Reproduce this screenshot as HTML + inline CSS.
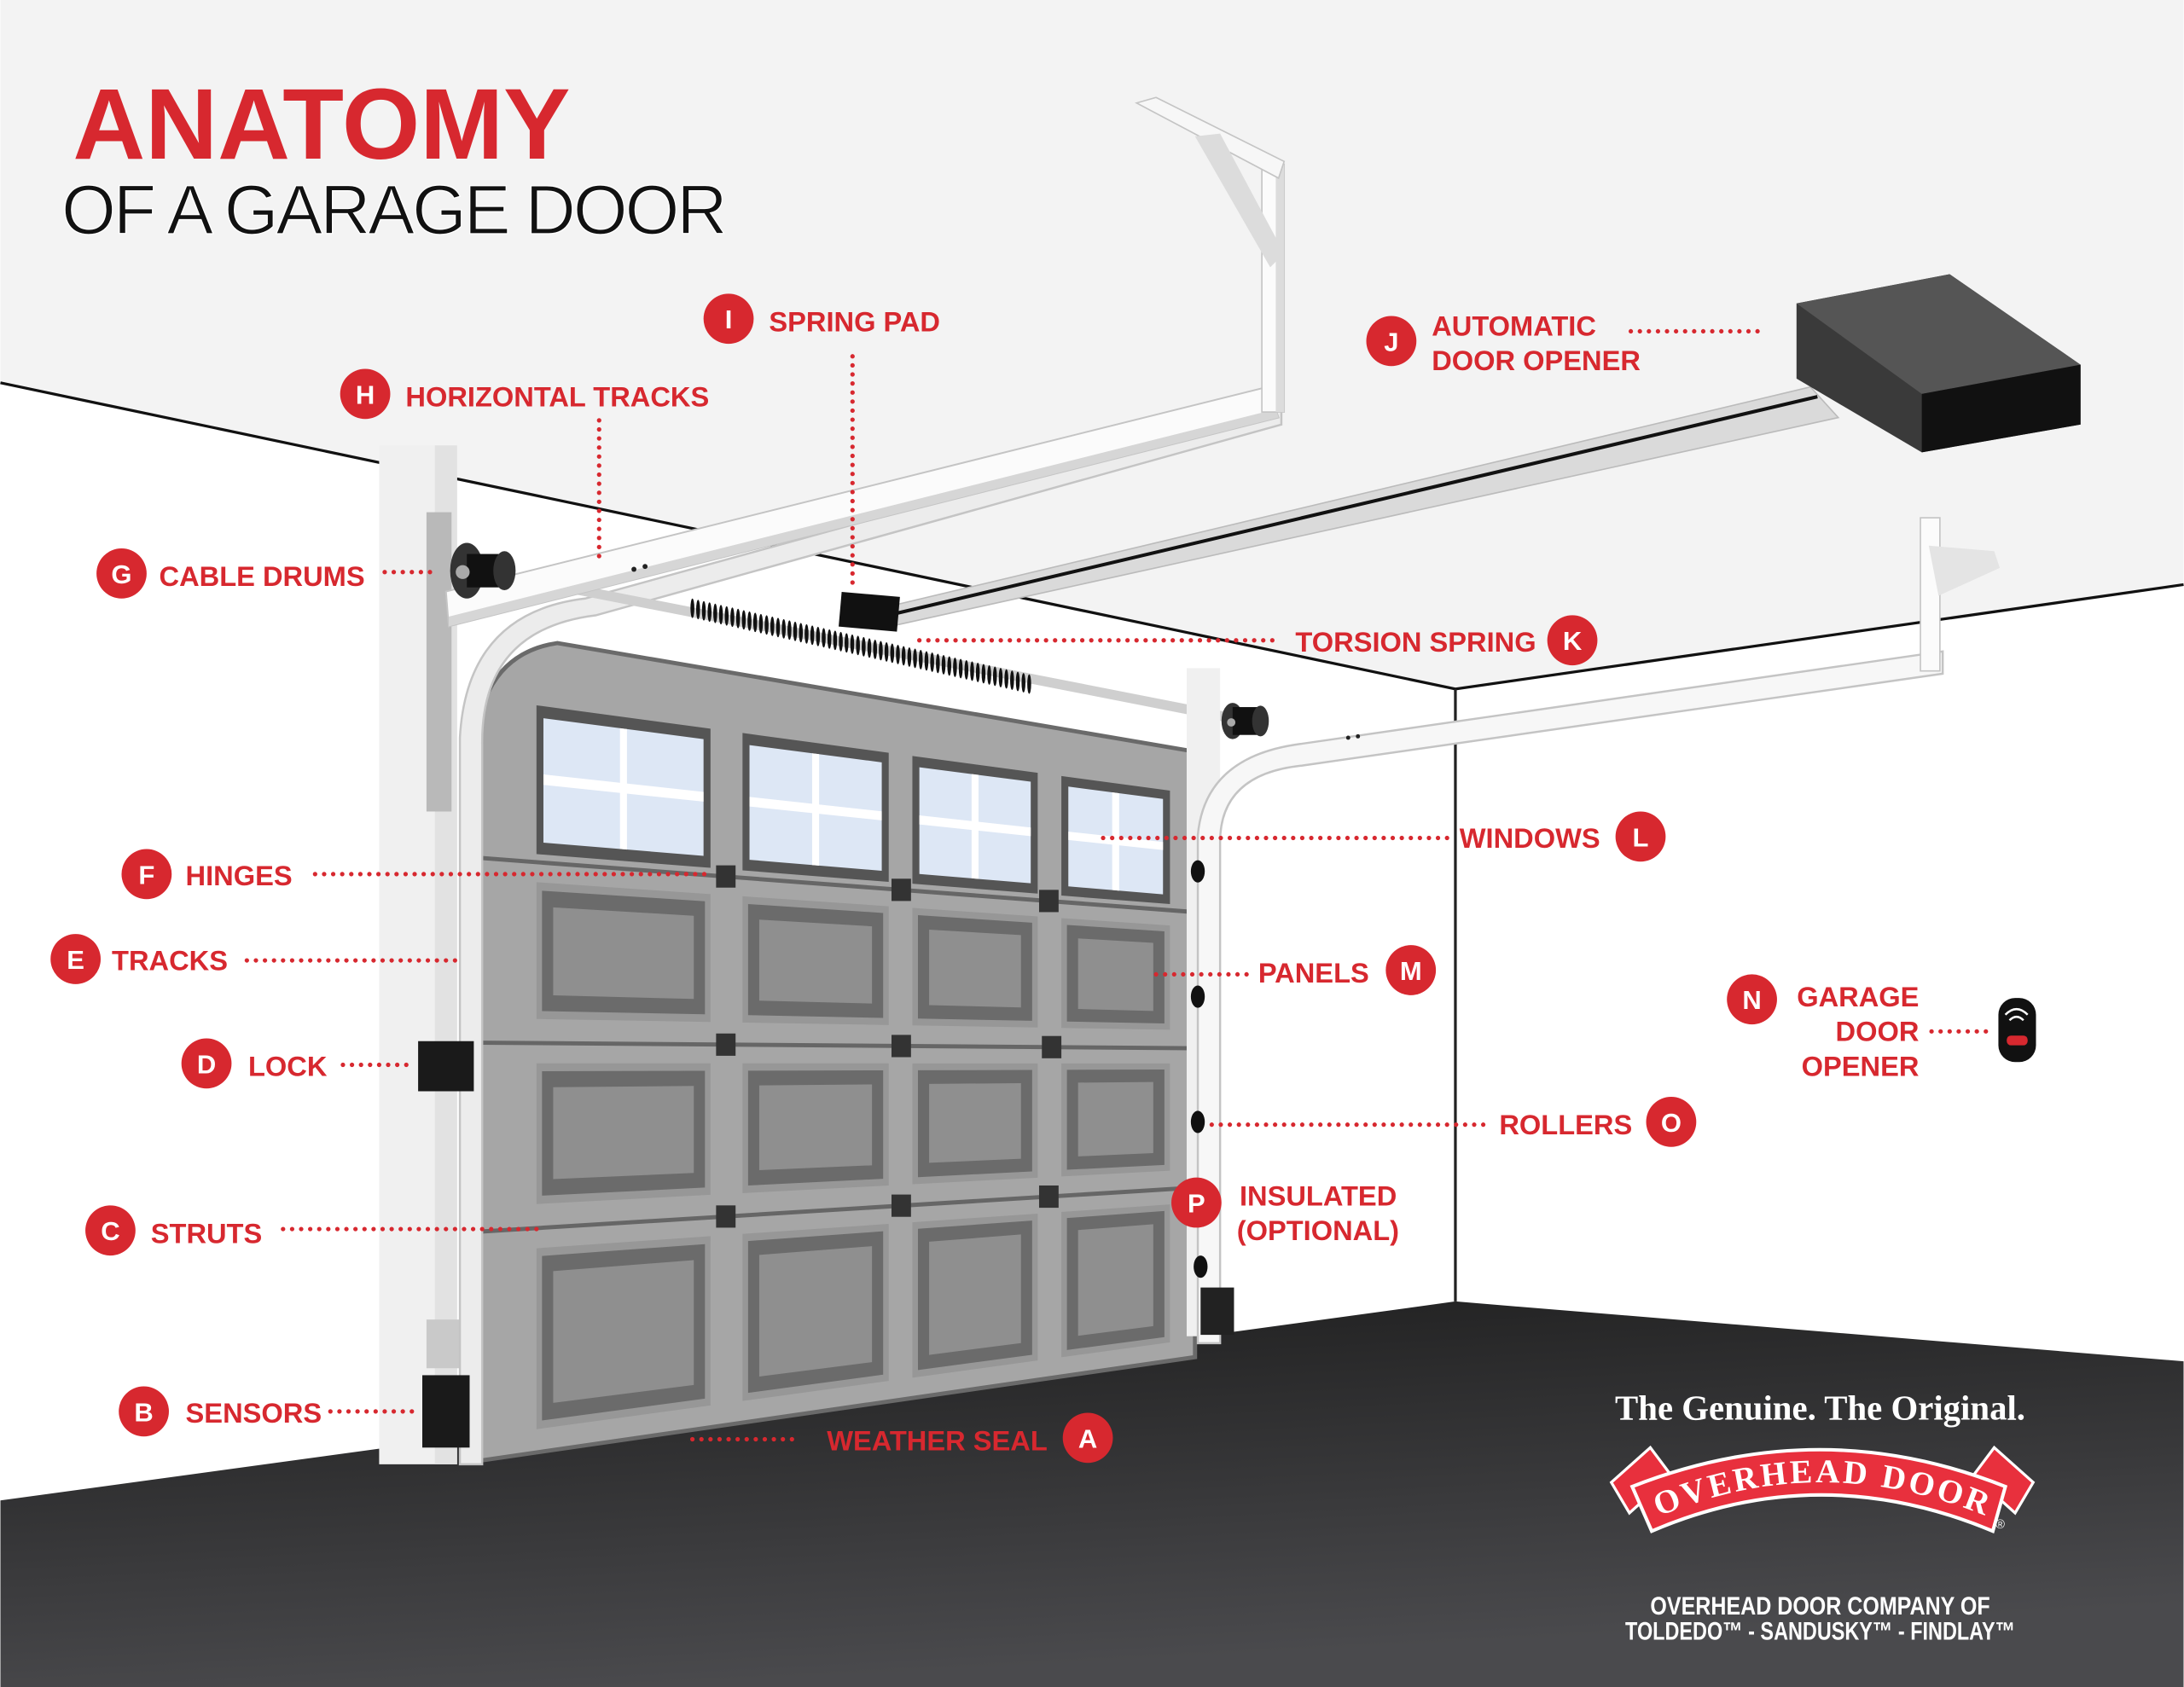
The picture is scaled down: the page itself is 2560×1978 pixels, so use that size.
<!DOCTYPE html>
<html><head><meta charset="utf-8"><style>
html,body{margin:0;padding:0;background:#fff;}
svg{display:block;}
.lab{font-family:"Liberation Sans",sans-serif;font-weight:bold;font-size:20px;fill:#d7282f;}
.cl{font-family:"Liberation Sans",sans-serif;font-weight:bold;font-size:19px;fill:#fff;text-anchor:middle;}
.dot{stroke:#d7282f;stroke-width:3.2;stroke-dasharray:0 6.5;stroke-linecap:round;fill:none;}
</style></head><body>
<svg id="s" width="2560" height="1978" viewBox="0 0 1568 1212" xmlns="http://www.w3.org/2000/svg">
<defs>
<linearGradient id="fl" x1="0" y1="0" x2="0.3" y2="1"><stop offset="0" stop-color="#1c1c1c"/><stop offset="1" stop-color="#4a4a4d"/></linearGradient>
</defs>
<rect width="1568" height="1212" fill="#fff"/>
<polygon points="0,0 1568,0 1568,420 1045,495 0,275" fill="#f3f3f3"/>
<polyline points="0,275 1045,495 1568,420" fill="none" stroke="#111" stroke-width="2"/>
<line x1="1045" y1="495" x2="1045" y2="935" stroke="#222" stroke-width="2"/>
<polygon points="0,1078 1045,935 1568,978 1568,1212 0,1212" fill="url(#fl)"/>
<!-- left jamb -->
<rect x="272" y="320" width="56" height="732" fill="#f0f0f0"/>
<rect x="312" y="320" width="16" height="732" fill="#e2e2e2"/>
<rect x="306" y="368" width="18" height="215" fill="#b9b9b9"/>
<rect x="306" y="948" width="28" height="35" fill="#c9c9c9"/>
<!-- door -->
<path d="M400,462 L858,540 L858,975 L340,1050 L340,540 Q345,470 400,462 Z" fill="#a6a6a6" stroke="#6a6a6a" stroke-width="3"/>
<g id="door"></g>
<!-- left curved track -->
<path d="M330,1052 L330,530 Q335,440 420,430 L920,292 L920,305 L428,442 Q345,452 346,535 L346,1052 Z" fill="#ececec" stroke="#c4c4c4" stroke-width="1.5"/>
<!-- torsion bar -->
<line x1="370" y1="415" x2="880" y2="515" stroke="#cfcfcf" stroke-width="7"/>
<g id="spring"></g>
<!-- left horizontal track bar -->
<polygon points="320,425 910,278 918,300 322,450" fill="#fbfbfb" stroke="#c4c4c4" stroke-width="1.2"/>
<polygon points="322,443 916,294 918,300 322,450" fill="#d6d6d6"/>
<circle cx="455" cy="409" r="1.8" fill="#222"/><circle cx="463" cy="407" r="1.8" fill="#222"/>
<!-- hanger -->
<polygon points="906,118 922,118 922,296 906,296" fill="#fbfbfb" stroke="#c4c4c4"/>
<rect x="916" y="118" width="6" height="178" fill="#dcdcdc"/>
<polygon points="816,74 830,70 922,116 918,128" fill="#f7f7f7" stroke="#c4c4c4"/>
<polygon points="858,98 876,96 922,182 912,192" fill="#dcdcdc"/>
<!-- cable drums -->
<ellipse cx="335" cy="410" rx="12" ry="20" fill="#333"/><rect x="335" y="398" width="26" height="24" fill="#111"/><ellipse cx="362" cy="410" rx="8" ry="14" fill="#333"/><circle cx="332" cy="411" r="5" fill="#aaa"/>
<ellipse cx="885" cy="518" rx="8" ry="13" fill="#333"/><rect x="885" y="508" width="20" height="20" fill="#111"/><ellipse cx="905" cy="518" rx="6" ry="11" fill="#333"/><circle cx="884" cy="519" r="3" fill="#aaa"/>
<!-- right jamb & track -->
<rect x="852" y="480" width="24" height="480" fill="#f0f0f0"/>
<path d="M860,965 L860,600 Q865,545 930,535 L1395,468 L1395,484 L935,550 Q876,556 876,605 L876,965 Z" fill="#f7f7f7" stroke="#c4c4c4" stroke-width="1.5"/>
<circle cx="968" cy="530" r="1.5" fill="#222"/><circle cx="975" cy="529" r="1.5" fill="#222"/>
<polygon points="1379,372 1393,372 1393,482 1379,482" fill="#fbfbfb" stroke="#c4c4c4"/>
<polygon points="1385,392 1432,396 1436,408 1392,428" fill="#e4e4e4"/>
<!-- rollers -->
<g fill="#111"><ellipse cx="860" cy="626" rx="5" ry="8"/><ellipse cx="860" cy="716" rx="5" ry="8"/><ellipse cx="860" cy="806" rx="5" ry="8"/><ellipse cx="862" cy="910" rx="5" ry="8"/></g>
<rect x="862" y="925" width="24" height="34" fill="#222"/>
<!-- opener rail -->
<polygon points="620,440 1300,278 1320,300 630,452" fill="#dadada" stroke="#bbb"/>
<line x1="625" y1="445" x2="1305" y2="285" stroke="#111" stroke-width="2.5"/>
<rect x="603" y="427" width="42" height="25" fill="#111" transform="rotate(5 624 440)"/>
<polygon points="1290,218 1400,197 1494,262 1494,305 1380,325 1290,272" fill="#3a3a3a"/>
<polygon points="1290,218 1400,197 1494,262 1380,283" fill="#555"/>
<polygon points="1380,283 1494,262 1494,305 1380,325" fill="#111"/>
<rect x="300" y="748" width="40" height="36" fill="#1a1a1a"/>
<rect x="303" y="988" width="34" height="52" fill="#1a1a1a"/>
<!-- title -->
<text x="52" y="114" font-family="Liberation Sans,sans-serif" font-weight="bold" font-size="72" fill="#d7282f">ANATOMY</text>
<text x="44" y="168" font-family="Liberation Sans,sans-serif" font-size="50" fill="#111" stroke="#fff" stroke-width="0.8" textLength="478">OF A GARAGE DOOR</text>
<line class="dot" x1="612" y1="256" x2="612" y2="425"/>
<line class="dot" x1="430" y1="302" x2="430" y2="405"/>
<line class="dot" x1="1171" y1="238" x2="1268" y2="238"/>
<line class="dot" x1="276" y1="411" x2="315" y2="411"/>
<line class="dot" x1="660" y1="460" x2="916" y2="460"/>
<line class="dot" x1="792" y1="602" x2="1040" y2="602"/>
<line class="dot" x1="226" y1="628" x2="510" y2="628"/>
<line class="dot" x1="177" y1="690" x2="330" y2="690"/>
<line class="dot" x1="830" y1="700" x2="897" y2="700"/>
<line class="dot" x1="1387" y1="741" x2="1428" y2="741"/>
<line class="dot" x1="246" y1="765" x2="297" y2="765"/>
<line class="dot" x1="870" y1="808" x2="1070" y2="808"/>
<line class="dot" x1="203" y1="883" x2="390" y2="883"/>
<line class="dot" x1="237" y1="1014" x2="298" y2="1014"/>
<line class="dot" x1="497" y1="1034" x2="574" y2="1034"/>
<g fill="#d7282f">
<circle cx="523" cy="229" r="18"/><circle cx="262" cy="283" r="18"/><circle cx="999" cy="245" r="18"/><circle cx="87" cy="412" r="18"/>
<circle cx="1129" cy="460" r="18"/><circle cx="1178" cy="601" r="18"/><circle cx="105" cy="628" r="18"/><circle cx="54" cy="689" r="18"/>
<circle cx="1013" cy="697" r="18"/><circle cx="1258" cy="718" r="18"/><circle cx="148" cy="764" r="18"/><circle cx="1200" cy="806" r="18"/>
<circle cx="79" cy="884" r="18"/><circle cx="859" cy="864" r="18"/><circle cx="103" cy="1014" r="18"/><circle cx="781" cy="1033" r="18"/>
</g>
<g class="cl">
<text x="523" y="236" class="cl">I</text><text x="262" y="290" class="cl">H</text><text x="999" y="252" class="cl">J</text><text x="87" y="419" class="cl">G</text>
<text x="1129" y="467" class="cl">K</text><text x="1178" y="608" class="cl">L</text><text x="105" y="635" class="cl">F</text><text x="54" y="696" class="cl">E</text>
<text x="1013" y="704" class="cl">M</text><text x="1258" y="725" class="cl">N</text><text x="148" y="771" class="cl">D</text><text x="1200" y="813" class="cl">O</text>
<text x="79" y="891" class="cl">C</text><text x="859" y="871" class="cl">P</text><text x="103" y="1021" class="cl">B</text><text x="781" y="1040" class="cl">A</text>
</g>
<g class="lab">
<text x="552" y="238">SPRING PAD</text>
<text x="291" y="292">HORIZONTAL TRACKS</text>
<text x="1028" y="241">AUTOMATIC</text><text x="1028" y="266">DOOR OPENER</text>
<text x="114" y="421">CABLE DRUMS</text>
<text x="1103" y="468" text-anchor="end">TORSION SPRING</text>
<text x="1149" y="609" text-anchor="end">WINDOWS</text>
<text x="133" y="636">HINGES</text>
<text x="80" y="697">TRACKS</text>
<text x="983" y="706" text-anchor="end">PANELS</text>
<text x="1378" y="723" text-anchor="end">GARAGE</text><text x="1378" y="748" text-anchor="end">DOOR</text><text x="1378" y="773" text-anchor="end">OPENER</text>
<text x="178" y="773">LOCK</text>
<text x="1172" y="815" text-anchor="end">ROLLERS</text>
<text x="108" y="893">STRUTS</text>
<text x="890" y="866">INSULATED</text><text x="888" y="891">(OPTIONAL)</text>
<text x="133" y="1022">SENSORS</text>
<text x="752" y="1042" text-anchor="end">WEATHER SEAL</text>
</g>
<rect x="1435" y="717" width="27" height="46" rx="12" fill="#111"/>
<rect x="1441" y="744" width="15" height="7" rx="3" fill="#d7282f"/>
<path d="M1443,733 q5,-5 10,0 M1440,729 q8,-8 16,0" stroke="#fff" stroke-width="1.5" fill="none"/>
<text x="1307" y="1020" text-anchor="middle" font-family="Liberation Serif,serif" font-weight="bold" font-size="25" fill="#fff">The Genuine. The Original.</text>
<polygon points="1157,1065 1185,1040 1200,1060 1170,1087" fill="#e8303d" stroke="#fff" stroke-width="2"/>
<polygon points="1460,1065 1432,1040 1417,1060 1447,1087" fill="#e8303d" stroke="#fff" stroke-width="2"/>
<path d="M1172,1068 Q1307,1015 1440,1068 L1431,1100 Q1307,1048 1186,1100 Z" fill="#e8303d" stroke="#fff" stroke-width="2.5"/>
<path id="arc" d="M1190,1090 Q1307,1040 1428,1090" fill="none"/>
<text font-family="Liberation Serif,serif" font-weight="bold" font-size="24" fill="#fff" letter-spacing="2"><textPath href="#arc" startOffset="50%" text-anchor="middle">OVERHEAD DOOR</textPath></text>
<text x="1433" y="1098" font-family="Liberation Sans,sans-serif" font-size="9" fill="#fff">®</text>
<text x="1307" y="1160" text-anchor="middle" font-family="Liberation Sans,sans-serif" font-weight="bold" font-size="18" fill="#fff" textLength="244" lengthAdjust="spacingAndGlyphs">OVERHEAD DOOR COMPANY OF</text>
<text x="1307" y="1178" text-anchor="middle" font-family="Liberation Sans,sans-serif" font-weight="bold" font-size="18" fill="#fff" textLength="280" lengthAdjust="spacingAndGlyphs">TOLDEDO™ - SANDUSKY™ - FINDLAY™</text>
</svg>
<script>
(function(){
var NS="http://www.w3.org/2000/svg",g=document.getElementById("door");
function yt(x){return 460+80*(x-345)/513;}function yb(x){return 1050-75*(x-345)/513;}
function P(x,f){return x+","+(yt(x)+f*(yb(x)-yt(x))).toFixed(1);}
function q(x1,x2,f1,f2,fill,par){var p=document.createElementNS(NS,"polygon");p.setAttribute("points",[P(x1,f1),P(x2,f1),P(x2,f2),P(x1,f2)].join(" "));p.setAttribute("fill",fill);(par||g).appendChild(p);return p;}
function line(x1,f1,x2,f2,c,w){var l=document.createElementNS(NS,"line");var a=P(x1,f1).split(","),b=P(x2,f2).split(",");l.setAttribute("x1",a[0]);l.setAttribute("y1",a[1]);l.setAttribute("x2",b[0]);l.setAttribute("y2",b[1]);l.setAttribute("stroke",c);l.setAttribute("stroke-width",w);g.appendChild(l);}
var cols=[[385,510],[533,638],[655,745],[762,840]];
var rows=[[0.265,0.49],[0.49,0.72],[0.72,1]];
[0.265,0.49,0.72].forEach(function(f){line(345,f,858,f,"#666",3);});
cols.forEach(function(c){
 var x1=c[0],x2=c[1];
 q(x1,x2,0.07,0.255,"#555");
 q(x1+5,x2-5,0.085,0.24,"#dde7f5");
 var xm=(x1+x2)/2;q(xm-2.5,xm+2.5,0.085,0.24,"#fff");
 q(x1+5,x2-5,0.155,0.168,"#fff");
 rows.forEach(function(r){
  q(x1,x2,r[0]+0.025,r[1]-0.03,"#979797");
  q(x1+4,x2-4,r[0]+0.035,r[1]-0.04,"#6b6b6b");
  q(x1+12,x2-12,r[0]+0.055,r[1]-0.06,"#8f8f8f");
 });
});
[[521,0.265],[647,0.265],[753,0.265],[521,0.49],[647,0.49],[755,0.49],[521,0.72],[647,0.72],[753,0.72]].forEach(function(h){
 var xy=P(h[0],h[1]).split(",");var r=document.createElementNS(NS,"rect");r.setAttribute("x",xy[0]-7);r.setAttribute("y",xy[1]-8);r.setAttribute("width",14);r.setAttribute("height",16);r.setAttribute("fill","#333");g.appendChild(r);});
var s=document.getElementById("spring");
for(var i=0;i<60;i++){var x=497+i*4.1,y=437+(x-497)*0.225;var e=document.createElementNS(NS,"ellipse");e.setAttribute("cx",x);e.setAttribute("cy",y);e.setAttribute("rx",1.4);e.setAttribute("ry",7);e.setAttribute("fill","#111");s.appendChild(e);}
})();
</script>
</body></html>
